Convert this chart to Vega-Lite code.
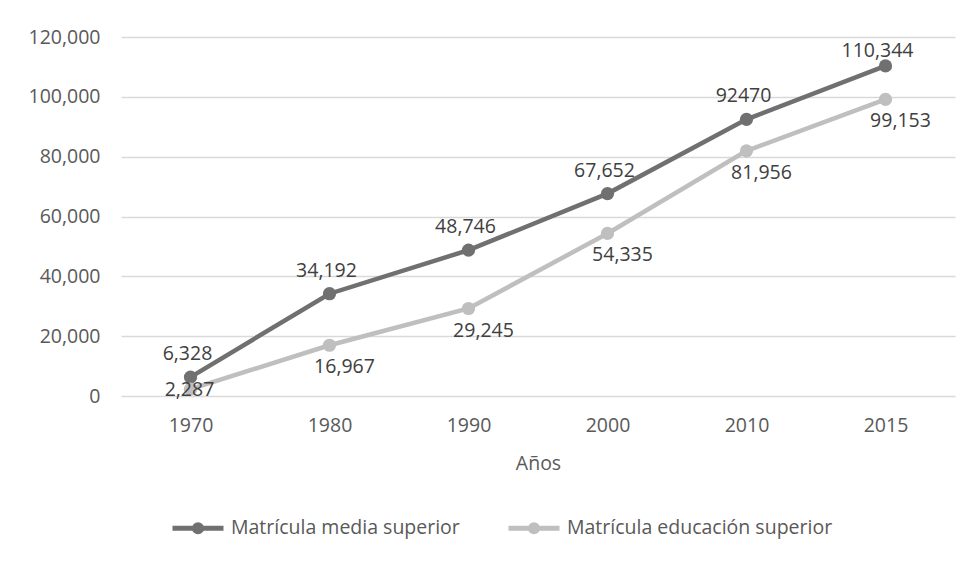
{
  "$schema": "https://vega.github.io/schema/vega-lite/v6.json",
  "width": 834,
  "height": 359,
  "autosize": "none",
  "padding": {"left": 121, "top": 37, "right": 16, "bottom": 165},
  "background": "white",
  "config": {"font": "Open Sans", "view": {"stroke": null}},
  "data": {
    "values": [
      {"year": 1970, "series": "Matrícula media superior", "value": 6328, "label": "6,328"},
      {"year": 1980, "series": "Matrícula media superior", "value": 34192, "label": "34,192"},
      {"year": 1990, "series": "Matrícula media superior", "value": 48746, "label": "48,746"},
      {"year": 2000, "series": "Matrícula media superior", "value": 67652, "label": "67,652"},
      {"year": 2010, "series": "Matrícula media superior", "value": 92470, "label": "92470"},
      {"year": 2015, "series": "Matrícula media superior", "value": 110344, "label": "110,344"},
      {"year": 1970, "series": "Matrícula educación superior", "value": 2287, "label": "2,287"},
      {"year": 1980, "series": "Matrícula educación superior", "value": 16967, "label": "16,967"},
      {"year": 1990, "series": "Matrícula educación superior", "value": 29245, "label": "29,245"},
      {"year": 2000, "series": "Matrícula educación superior", "value": 54335, "label": "54,335"},
      {"year": 2010, "series": "Matrícula educación superior", "value": 81956, "label": "81,956"},
      {"year": 2015, "series": "Matrícula educación superior", "value": 99153, "label": "99,153"}
    ]
  },
  "encoding": {
    "x": {
      "field": "year", "type": "ordinal",
      "scale": {"type": "point", "padding": 0.5},
      "axis": {
        "title": "Años", "labelAngle": 0, "domain": false, "ticks": false,
        "labelPadding": 20, "labelFontSize": 19.5, "labelColor": "#595959",
        "titleFontSize": 19.5, "titleColor": "#595959", "titleFontWeight": "normal",
        "titlePadding": 20
      }
    },
    "y": {
      "field": "value", "type": "quantitative",
      "scale": {"domain": [0, 120000], "nice": false},
      "axis": {
        "title": null, "values": [0, 20000, 40000, 60000, 80000, 100000, 120000],
        "format": ",d", "domain": false, "ticks": false,
        "labelPadding": 21, "labelFontSize": 19.5, "labelColor": "#595959",
        "gridColor": "#d9d9d9", "gridWidth": 1.5
      }
    }
  },
  "layer": [
    {
      "mark": {"type": "line", "strokeWidth": 4.5},
      "encoding": {
        "color": {
          "field": "series", "type": "nominal",
          "scale": {"domain": ["Matrícula media superior", "Matrícula educación superior"], "range": ["#707070", "#bfbfbf"]},
          "legend": {
            "title": null, "orient": "none", "direction": "horizontal",
            "legendX": 49, "legendY": 463,
            "symbolType": "M-1,0L1,0M-0.14,0A0.14,0.14,0,1,0,0.14,0A0.14,0.14,0,1,0,-0.14,0Z",
            "symbolSize": 2601, "symbolStrokeWidth": 5,
            "labelFontSize": 19.5, "labelColor": "#595959", "labelOffset": 5, "labelLimit": 0,
            "columnPadding": 38, "padding": 0,
            "encode": {"symbols": {"update": {"fill": {"scale": "color", "field": "value"}, "fillOpacity": {"value": 1}}}}
          }
        },
        "sort": {"field": "series"}
      }
    },
    {
      "mark": {"type": "point", "filled": true, "opacity": 1, "size": 175, "shape": "circle"},
      "encoding": {
        "color": {"field": "series", "type": "nominal", "legend": null}
      }
    },
    {
      "transform": [{"filter": "datum.series == 'Matrícula media superior' && datum.year != 2015"}],
      "mark": {"type": "text", "fontSize": 19.5, "color": "#404040", "dy": -23, "dx": -3, "baseline": "middle"},
      "encoding": {"text": {"field": "label"}}
    },
    {
      "transform": [{"filter": "datum.series == 'Matrícula media superior' && datum.year == 2015"}],
      "mark": {"type": "text", "fontSize": 19.5, "color": "#404040", "dy": -15, "dx": -8, "baseline": "middle"},
      "encoding": {"text": {"field": "label"}}
    },
    {
      "transform": [{"filter": "datum.series == 'Matrícula educación superior' && datum.year != 1970"}],
      "mark": {"type": "text", "fontSize": 19.5, "color": "#404040", "dy": 22, "dx": 15, "baseline": "middle"},
      "encoding": {"text": {"field": "label"}}
    },
    {
      "transform": [{"filter": "datum.series == 'Matrícula educación superior' && datum.year == 1970"}],
      "mark": {"type": "text", "fontSize": 19.5, "color": "#404040", "dy": 1, "dx": -1, "baseline": "middle"},
      "encoding": {"text": {"field": "label"}}
    }
  ]
}
